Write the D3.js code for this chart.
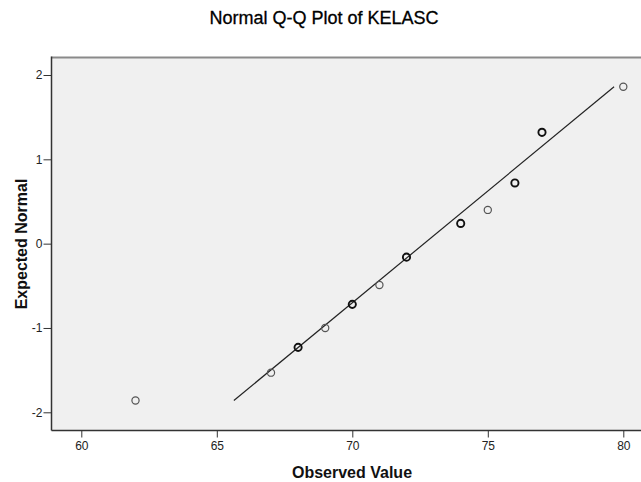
<!DOCTYPE html>
<html>
<head>
<meta charset="utf-8">
<script src="https://cdn.jsdelivr.net/npm/d3@7"></script>
<style>
  body { margin: 0; background: #fff; }
  text { font-family: Arial, "Liberation Sans", sans-serif; }
</style>
</head>
<body>
<svg id="chart" width="641" height="482"></svg>
<script>
// observed values and their expected normal scores
const observed = [62, 67, 68, 69, 70, 71, 72, 74, 75, 76, 77, 80];
const expected = [-1.86, -1.53, -1.23, -1.0, -0.72, -0.49, -0.16, 0.24, 0.40, 0.72, 1.32, 1.86];
// cases per value (dupes get drawn darker, like the overlapping SPSS markers)
const counts = [1, 1, 2, 1, 2, 1, 2, 2, 1, 2, 2, 1];

// reference line end points
const lineX = [65.63, 79.66];
const lineY = [-1.86, 1.86];

const xTicks = [60, 65, 70, 75, 80];
const yTicks = [-2, -1, 0, 1, 2];

const svg = d3.select('#chart');

const frame = { left: 51.5, top: 57.5, right: 645, bottom: 430.5 };

const x = d3.scaleLinear().domain([60, 80]).range([81.3, 623.3]);
const y = d3.scaleLinear().domain([-2, 2]).range([412.3, 75]);

// plot area
svg.append('rect')
  .attr('x', frame.left)
  .attr('y', frame.top)
  .attr('width', frame.right - frame.left)
  .attr('height', frame.bottom - frame.top)
  .attr('fill', '#f0f0f0');

svg.append('line')
  .attr('x1', frame.left).attr('x2', frame.right)
  .attr('y1', frame.top).attr('y2', frame.top)
  .attr('stroke', '#8a8a8a')
  .attr('stroke-width', 2);

// axes
const xAxis = svg.append('g')
  .attr('transform', `translate(0,${frame.bottom})`)
  .call(d3.axisBottom(x).tickValues(xTicks).tickFormat((d) => String(d))
    .tickSize(7).tickPadding(4).tickSizeOuter(0));
const yAxis = svg.append('g')
  .attr('transform', `translate(${frame.left},0)`)
  .call(d3.axisLeft(y).tickValues(yTicks).tickFormat((d) => String(d))
    .tickSize(8).tickPadding(1).tickSizeOuter(0));

[xAxis, yAxis].forEach((ax) => {
  ax.select('.domain').remove();
  ax.selectAll('line').attr('stroke', '#333');
  ax.selectAll('text')
    .attr('fill', '#222')
    .style('font-size', '12px')
    .style('font-family', 'Arial, "Liberation Sans", sans-serif');
});

svg.append('line')
  .attr('x1', frame.left).attr('x2', frame.left)
  .attr('y1', frame.top - 1).attr('y2', frame.bottom)
  .attr('stroke', '#333').attr('stroke-width', 1.5);
svg.append('line')
  .attr('x1', frame.left).attr('x2', frame.right)
  .attr('y1', frame.bottom).attr('y2', frame.bottom)
  .attr('stroke', '#333').attr('stroke-width', 1.5);

// reference line
svg.append('path')
  .attr('fill', 'none')
  .attr('stroke', '#222')
  .attr('stroke-width', 1.2)
  .attr('d', d3.line()([[x(lineX[0]), y(lineY[0])], [x(lineX[1]), y(lineY[1])]]));

// points
svg.append('g')
  .selectAll('circle')
  .data(observed)
  .enter()
  .append('circle')
  .attr('cx', (d) => x(d))
  .attr('cy', (d, i) => y(expected[i]))
  .attr('r', 3.6)
  .attr('fill', 'none')
  .attr('stroke', (d, i) => (counts[i] > 1 ? '#111' : '#555'))
  .attr('stroke-width', (d, i) => (counts[i] > 1 ? 1.9 : 1.2));

// titles
svg.append('text')
  .attr('x', 324)
  .attr('y', 24)
  .attr('text-anchor', 'middle')
  .style('font-size', '18px')
  .attr('fill', '#000')
  .attr('stroke', '#000')
  .attr('stroke-width', 0.3)
  .text('Normal Q-Q Plot of KELASC');

svg.append('text')
  .attr('x', 352)
  .attr('y', 478)
  .attr('text-anchor', 'middle')
  .style('font-size', '16px')
  .style('font-weight', 'bold')
  .attr('fill', '#111')
  .text('Observed Value');

svg.append('text')
  .attr('transform', 'translate(27,244) rotate(-90)')
  .attr('text-anchor', 'middle')
  .style('font-size', '16px')
  .style('font-weight', 'bold')
  .attr('fill', '#111')
  .text('Expected Normal');
</script>
</body>
</html>
